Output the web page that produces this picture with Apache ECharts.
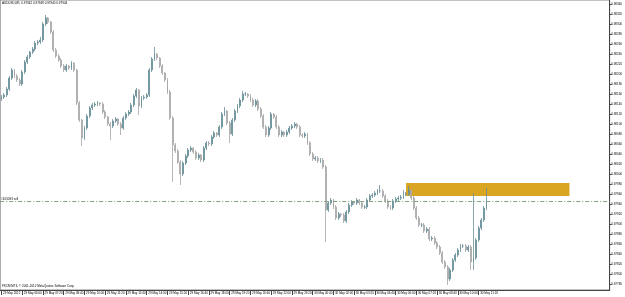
<!DOCTYPE html>
<html><head><meta charset="utf-8">
<script src="https://cdn.jsdelivr.net/npm/echarts@6/dist/echarts.min.js"></script>
<style>html,body{margin:0;padding:0;background:#fff}#c{width:625px;height:297px}</style>
</head><body><div id="c"></div>
<script>
// 10-minute candles read from the AUDUSD,M5 picture
const openP = [0.98150,0.98154,0.98158,0.98170,0.98192,0.98208,0.98196,0.98188,0.98180,0.98204,
0.98224,0.98234,0.98244,0.98250,0.98262,0.98264,0.98268,0.98300,0.98312,0.98304,
0.98284,0.98248,0.98236,0.98228,0.98216,0.98208,0.98216,0.98212,0.98222,0.98208,
0.98142,0.98108,0.98072,0.98092,0.98116,0.98132,0.98138,0.98140,0.98142,0.98140,
0.98124,0.98114,0.98100,0.98096,0.98106,0.98110,0.98100,0.98092,0.98112,0.98120,
0.98124,0.98138,0.98156,0.98168,0.98136,0.98152,0.98154,0.98158,0.98208,0.98230,
0.98240,0.98232,0.98216,0.98202,0.98188,0.98164,0.98112,0.98058,0.98046,0.98024,
0.98000,0.98022,0.98036,0.98048,0.98052,0.98044,0.98032,0.98038,0.98028,0.98052,
0.98062,0.98060,0.98074,0.98082,0.98078,0.98094,0.98120,0.98126,0.98102,0.98080,
0.98108,0.98126,0.98136,0.98148,0.98160,0.98160,0.98156,0.98148,0.98138,0.98146,
0.98130,0.98116,0.98094,0.98078,0.98092,0.98120,0.98114,0.98094,0.98078,0.98084,
0.98078,0.98084,0.98092,0.98096,0.98100,0.98094,0.98078,0.98076,0.98080,0.98062,
0.98040,0.98030,0.98032,0.98026,0.98028,0.98014,0.97928,0.97942,0.97948,0.97934,
0.97912,0.97920,0.97918,0.97906,0.97924,0.97938,0.97944,0.97942,0.97948,0.97942,
0.97934,0.97934,0.97948,0.97956,0.97958,0.97962,0.97966,0.97966,0.97956,0.97946,
0.97934,0.97932,0.97946,0.97950,0.97952,0.97954,0.97960,0.97960,0.97968,0.97952,
0.97932,0.97912,0.97898,0.97898,0.97886,0.97890,0.97870,0.97872,0.97862,0.97854,
0.97842,0.97824,0.97814,0.97790,0.97808,0.97828,0.97838,0.97848,0.97856,0.97856,
0.97848,0.97854,0.97824,0.97832,0.97868,0.97892,0.97908,0.97932];
const closeP = [0.98154,0.98158,0.98170,0.98192,0.98208,0.98196,0.98188,0.98180,0.98204,0.98224,
0.98234,0.98244,0.98250,0.98262,0.98264,0.98268,0.98300,0.98312,0.98304,0.98284,
0.98248,0.98236,0.98228,0.98216,0.98208,0.98216,0.98212,0.98222,0.98208,0.98142,
0.98108,0.98072,0.98092,0.98116,0.98132,0.98138,0.98140,0.98142,0.98140,0.98124,
0.98114,0.98100,0.98096,0.98106,0.98110,0.98100,0.98092,0.98112,0.98120,0.98124,
0.98138,0.98156,0.98168,0.98136,0.98152,0.98154,0.98158,0.98208,0.98230,0.98240,
0.98232,0.98216,0.98202,0.98188,0.98164,0.98112,0.98058,0.98046,0.98024,0.98000,
0.98022,0.98036,0.98048,0.98052,0.98044,0.98032,0.98038,0.98028,0.98052,0.98062,
0.98060,0.98074,0.98082,0.98078,0.98094,0.98120,0.98126,0.98102,0.98080,0.98108,
0.98126,0.98136,0.98148,0.98160,0.98160,0.98156,0.98148,0.98138,0.98146,0.98130,
0.98116,0.98094,0.98078,0.98092,0.98120,0.98114,0.98094,0.98078,0.98084,0.98078,
0.98084,0.98092,0.98096,0.98100,0.98094,0.98078,0.98076,0.98080,0.98062,0.98040,
0.98030,0.98032,0.98026,0.98028,0.98014,0.97928,0.97942,0.97948,0.97934,0.97912,
0.97920,0.97918,0.97906,0.97924,0.97938,0.97944,0.97942,0.97948,0.97942,0.97934,
0.97934,0.97948,0.97956,0.97958,0.97962,0.97966,0.97966,0.97956,0.97946,0.97934,
0.97932,0.97946,0.97950,0.97952,0.97954,0.97960,0.97960,0.97968,0.97952,0.97932,
0.97912,0.97898,0.97898,0.97886,0.97890,0.97870,0.97872,0.97862,0.97854,0.97842,
0.97824,0.97814,0.97790,0.97808,0.97828,0.97838,0.97848,0.97856,0.97856,0.97848,
0.97854,0.97824,0.97832,0.97868,0.97892,0.97908,0.97932,0.97944];
const lowP = [0.98146,0.98150,0.98154,0.98166,0.98188,0.98192,0.98184,0.98176,0.98176,0.98200,
0.98220,0.98230,0.98240,0.98246,0.98258,0.98260,0.98264,0.98296,0.98300,0.98280,
0.98244,0.98232,0.98224,0.98212,0.98204,0.98204,0.98208,0.98208,0.98204,0.98138,
0.98104,0.98056,0.98068,0.98088,0.98112,0.98128,0.98134,0.98136,0.98136,0.98120,
0.98110,0.98096,0.98068,0.98092,0.98102,0.98096,0.98078,0.98088,0.98108,0.98116,
0.98120,0.98134,0.98152,0.98118,0.98132,0.98148,0.98150,0.98154,0.98204,0.98226,
0.98228,0.98212,0.98198,0.98184,0.98160,0.98108,0.97984,0.98042,0.98020,0.97978,
0.97996,0.98018,0.98032,0.98044,0.98040,0.98028,0.98028,0.98024,0.98024,0.98048,
0.98056,0.98056,0.98070,0.98074,0.98074,0.98090,0.98116,0.98098,0.98062,0.98076,
0.98104,0.98122,0.98132,0.98144,0.98156,0.98152,0.98144,0.98134,0.98134,0.98126,
0.98112,0.98090,0.98074,0.98074,0.98088,0.98110,0.98090,0.98074,0.98074,0.98074,
0.98074,0.98080,0.98088,0.98092,0.98090,0.98074,0.98072,0.98072,0.98058,0.98036,
0.98026,0.98026,0.98022,0.98022,0.98010,0.97864,0.97924,0.97938,0.97930,0.97908,
0.97908,0.97914,0.97902,0.97902,0.97920,0.97934,0.97938,0.97938,0.97938,0.97930,
0.97930,0.97930,0.97944,0.97952,0.97954,0.97958,0.97962,0.97952,0.97942,0.97930,
0.97928,0.97928,0.97942,0.97946,0.97948,0.97950,0.97956,0.97956,0.97948,0.97928,
0.97908,0.97894,0.97894,0.97882,0.97882,0.97866,0.97866,0.97858,0.97850,0.97838,
0.97820,0.97810,0.97778,0.97786,0.97804,0.97824,0.97834,0.97844,0.97852,0.97844,
0.97844,0.97808,0.97808,0.97828,0.97864,0.97888,0.97904,0.97928];
const highP = [0.98158,0.98162,0.98174,0.98196,0.98212,0.98210,0.98200,0.98192,0.98208,0.98228,
0.98238,0.98246,0.98254,0.98266,0.98268,0.98274,0.98304,0.98318,0.98314,0.98306,
0.98288,0.98252,0.98240,0.98232,0.98220,0.98220,0.98218,0.98226,0.98224,0.98210,
0.98146,0.98110,0.98096,0.98120,0.98136,0.98142,0.98144,0.98146,0.98144,0.98144,
0.98128,0.98116,0.98104,0.98110,0.98114,0.98112,0.98104,0.98116,0.98124,0.98128,
0.98142,0.98160,0.98172,0.98170,0.98156,0.98158,0.98162,0.98212,0.98234,0.98254,
0.98242,0.98234,0.98220,0.98204,0.98192,0.98168,0.98116,0.98062,0.98050,0.98028,
0.98026,0.98040,0.98052,0.98056,0.98054,0.98048,0.98042,0.98040,0.98056,0.98066,
0.98066,0.98078,0.98086,0.98084,0.98098,0.98124,0.98134,0.98128,0.98106,0.98112,
0.98130,0.98140,0.98152,0.98166,0.98164,0.98162,0.98160,0.98152,0.98150,0.98150,
0.98134,0.98120,0.98098,0.98096,0.98124,0.98122,0.98118,0.98098,0.98088,0.98086,
0.98088,0.98096,0.98100,0.98104,0.98102,0.98098,0.98082,0.98084,0.98082,0.98066,
0.98044,0.98036,0.98036,0.98032,0.98032,0.98018,0.97946,0.97952,0.97950,0.97938,
0.97924,0.97922,0.97922,0.97928,0.97942,0.97948,0.97946,0.97952,0.97950,0.97946,
0.97938,0.97952,0.97960,0.97962,0.97966,0.97970,0.97978,0.97970,0.97960,0.97950,
0.97938,0.97950,0.97954,0.97956,0.97958,0.97968,0.97964,0.97976,0.97970,0.97956,
0.97936,0.97916,0.97902,0.97902,0.97894,0.97894,0.97876,0.97876,0.97866,0.97858,
0.97846,0.97828,0.97818,0.97812,0.97832,0.97842,0.97852,0.97860,0.97860,0.97860,
0.97858,0.97858,0.97962,0.97872,0.97896,0.97912,0.97936,0.97972];

const timeLabels = ["29 May 2012","29 May 06:00","29 May 07:20","29 May 08:40","29 May 10:00","29 May 11:20",
"29 May 12:40","29 May 14:00","29 May 15:20","29 May 16:40","29 May 18:00","29 May 19:20","29 May 20:40",
"29 May 22:00","29 May 23:20","30 May 00:40","30 May 02:00","30 May 03:20","30 May 04:40","30 May 06:00",
"30 May 07:20","30 May 08:40","30 May 10:00","30 May 11:20"];
const priceTicks = [0.98340,0.98320,0.98300,0.98280,0.98260,0.98240,0.98220,0.98200,0.98180,0.98160,
0.98140,0.98120,0.98100,0.98080,0.98060,0.98040,0.98020,0.98000,0.97980,0.97960,0.97940,0.97920,
0.97900,0.97880,0.97860,0.97840,0.97820,0.97800,0.97780];
const orderPrice = 0.97946;
const bidPrice = 0.97944;
const zoneTop = 0.97982, zoneBottom = 0.97956;
const zoneStart = 156, zoneEnd = 219;
const slotCount = 235, labelEvery = 8;

const cats = Array.from({length: slotCount}, (_, i) => String(i));
const ohlc = openP.map((o, i) => [o, closeP[i], lowP[i], highP[i]]);
const showTick = (i) => i % labelEvery === 0 && i / labelEvery < timeLabels.length;

const chart = echarts.init(document.getElementById('c'), null, {renderer: 'canvas'});
chart.setOption({
  animation: false,
  backgroundColor: '#fff',
  textStyle: {fontFamily: 'Liberation Sans, Arial, sans-serif'},
  grid: {left: 0, right: 13, top: 0, bottom: 7, show: true, borderColor: '#888', borderWidth: 1},
  graphic: [
    {type: 'text', left: 2, top: 2, style: {text: 'AUDUSD,M5  0.97942 0.97948 0.97940 0.97944', fontSize: 3, fill: '#000'}},
    {type: 'text', left: 2, top: 285, style: {text: 'FXCM MT4, © 2001-2012 MetaQuotes Software Corp.', fontSize: 3, fill: '#000'}}
  ],
  xAxis: {
    type: 'category', data: cats, boundaryGap: true,
    axisLine: {lineStyle: {color: '#444', width: 1}},
    axisTick: {show: true, alignWithLabel: true, interval: (i) => showTick(i), length: 5, lineStyle: {color: '#444'}},
    axisLabel: {interval: (i) => showTick(i), formatter: (v, i) => timeLabels[i / labelEvery] || '', align: 'left', margin: 1.5, fontSize: 3, color: '#000', padding: [0, 0, 0, 1.5]},
    splitLine: {show: false}
  },
  yAxis: {
    type: 'value', position: 'right', min: 0.97768, max: 0.98348, scale: true,
    axisLine: {show: true, lineStyle: {color: '#444', width: 1}},
    axisTick: {show: true, length: 2, customValues: priceTicks, lineStyle: {color: '#444'}},
    axisLabel: {customValues: priceTicks, formatter: (v) => v.toFixed(5), fontSize: 3, margin: 1.5, color: '#000'},
    splitLine: {show: false}
  },
  series: [
    {
      type: 'line', data: [], z: 1, silent: true,
      markArea: {silent: true, itemStyle: {color: '#DAA520', opacity: 1},
        data: [[{xAxis: zoneStart, yAxis: zoneTop}, {xAxis: zoneEnd, yAxis: zoneBottom}]]},
      markLine: {
        silent: true, symbol: ['none', 'none'], precision: 5,
        data: [
          {yAxis: orderPrice, lineStyle: {color: '#7fa27f', type: [4, 2, 1, 2], width: 1},
           label: {show: true, position: 'insideStartTop', distance: [1, 0.5], formatter: '#105093 sell', fontSize: 3, color: '#000'}},
          {yAxis: bidPrice, lineStyle: {opacity: 0},
           label: {show: true, position: 'end', distance: 1, formatter: bidPrice.toFixed(5), fontSize: 3, color: '#fff', backgroundColor: '#000', padding: [0.5, 1]}}
        ]
      }
    },
    {
      type: 'candlestick', data: ohlc, z: 3, barWidth: 1.4,
      itemStyle: {color: '#3e7d8f', color0: '#c6c6c6', borderColor: '#6b8f99', borderColor0: '#a4a4a4', borderWidth: 0.8}
    }
  ]
});
</script></body></html>
